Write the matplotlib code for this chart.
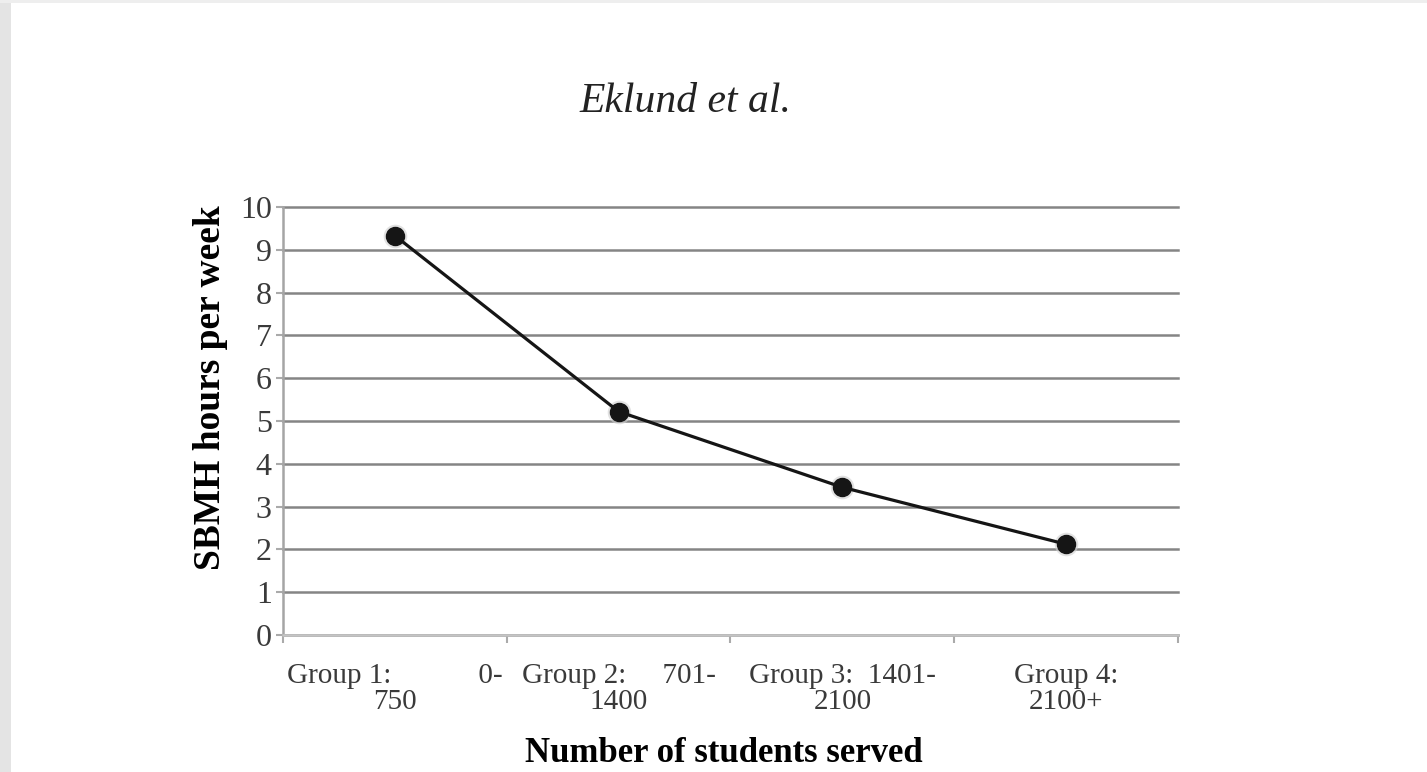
import matplotlib
matplotlib.use("Agg")
import matplotlib.pyplot as plt
from matplotlib.patches import Rectangle

# data
groups = ["Group 1:            0-\n750",
          "Group 2:     701-\n1400",
          "Group 3:  1401-\n2100",
          "Group 4:\n2100+"]
hours = [9.33, 5.22, 3.45, 2.12]
y_ticks = list(range(0, 11))

plt.rcParams['font.family'] = ['Liberation Serif', 'DejaVu Serif']

fig = plt.figure(figsize=(14.27, 7.72), dpi=100, facecolor='white')

# scanned page edge on the left/top
fig.add_artist(Rectangle((0, 0), 11 / 1427, 1, transform=fig.transFigure,
                         facecolor='#e4e4e4', edgecolor='none', zorder=0))
fig.add_artist(Rectangle((0, 1 - 3 / 772), 1, 3 / 772, transform=fig.transFigure,
                         facecolor='#eeeeee', edgecolor='none', zorder=0))

ax = fig.add_axes([0.1983, 0.1775, 0.6272, 0.5544])

x = list(range(len(groups)))
# soft shadow under the markers
ax.plot(x, hours, linestyle='none', marker='o', markersize=17,
        markerfacecolor='#d0d0d0', markeredgecolor='none', alpha=0.6, zorder=2)
ax.plot(x, hours, color='#151515', lw=2.3, marker='o', markersize=13,
        markerfacecolor='#151515', markeredgecolor='#151515', zorder=3)

ax.set_xlim(-0.5, len(groups) - 0.5)
ax.set_ylim(0, 10)
ax.set_yticks(y_ticks)
ax.tick_params(axis='y', labelsize=23, colors='#aaaaaa', length=5, width=1.5,
               labelcolor='#3a3a3a', pad=3)

# category boundaries as ticks, labels at centres
ax.set_xticks([i + 0.5 for i in range(-1, len(groups))], minor=False)
ax.set_xticklabels([])
ax.tick_params(axis='x', which='major', colors='#aaaaaa', length=6, width=1.5, direction='out')
ax.set_xticks(x, minor=True)
ax.set_xticklabels(groups, minor=True, fontsize=21, color='#3a3a3a',
                   linespacing=1.0, multialignment='center')
ax.tick_params(axis='x', which='minor', length=0, pad=20)

ax.yaxis.grid(True, color='#858585', lw=1.8)
for gl in ax.get_ygridlines():
    gl.set_clip_on(False)
ax.set_axisbelow(True)

for s in ['top', 'right']:
    ax.spines[s].set_visible(False)
ax.spines['left'].set_color('#a5a5a5')
ax.spines['left'].set_linewidth(1.8)
ax.spines['bottom'].set_color('#c4c4c4')
ax.spines['bottom'].set_linewidth(1.8)

ax.set_ylabel('SBMH hours per week', fontsize=27, fontweight='bold')
ax.yaxis.set_label_coords(-0.061, 0.577)
ax.set_xlabel('Number of students served', fontsize=25, fontweight='bold')
ax.xaxis.set_label_coords(0.492, -0.276)
ax.xaxis.label.set_va('center')

fig.text(0.48, 0.868, 'Eklund et al.', fontsize=30, style='italic',
         ha='center', va='center', color='#222222')

fig.savefig('out.png', dpi=100, facecolor=fig.get_facecolor())
